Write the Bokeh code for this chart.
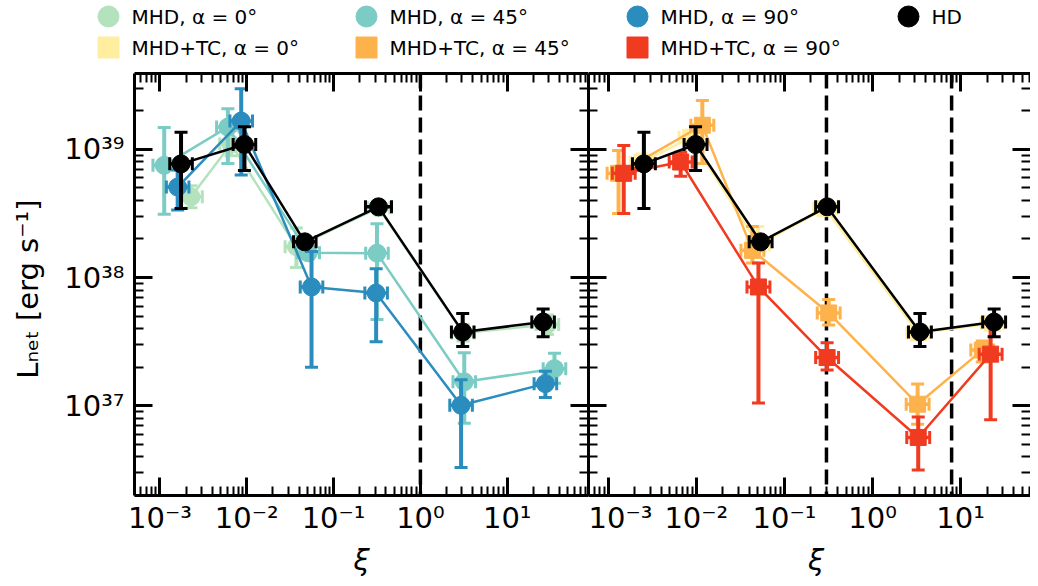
import numpy as np
from bokeh.plotting import figure
from bokeh.models import Range1d, LogAxis, FixedTicker, CustomJSTickFormatter, Span, ColumnDataSource
from bokeh.layouts import column, row
from bokeh.embed import file_html
from bokeh.resources import INLINE
from bokeh.core.properties import value

FONT = "DejaVu Sans"

# ---------------- data ----------------
# Left panel: MHD runs
hd_l_x   = [1.75e-3, 9.4e-3, 0.0466, 0.329, 3.07, 25.9]
hd_l_y   = [7.7e38, 1.09e39, 1.9e38, 3.56e38, 3.77e37, 4.5e37]
hd_l_ylo = [3.45e38, 6.85e38, 1.75e38, 3.35e38, 2.9e37, 3.45e37]
hd_l_yhi = [1.36e39, 1.5e39, 2.05e38, 3.8e38, 5.25e37, 5.7e37]
hd_l_xdex = [0.13, 0.13, 0.13, 0.15, 0.13, 0.13]

m0_x   = [2.28e-3, 6.6e-3, 0.0373, 0.33, 3.1, 29.0]
m0_y   = [4.26e38, 1.1e39, 1.74e38, 3.5e38, 3.7e37, 4.3e37]
m0_ylo = [3.5e38, 8.9e38, 1.2e38, 3.3e38, 3.2e37, 3.6e37]
m0_yhi = [5.2e38, 1.4e39, 2.43e38, 3.7e38, 4.3e37, 5.1e37]
m0_xdex = [0.13, 0.13, 0.13, 0.13, 0.13, 0.13]

m45_x   = [1.12e-3, 6.06e-3, 0.051, 0.316, 3.2, 35.0]
m45_y   = [7.5e38, 1.49e39, 1.56e38, 1.55e38, 1.54e37, 1.95e37]
m45_ylo = [3.12e38, 7.74e38, 1.4e38, 4.71e37, 7.3e36, 1.5e37]
m45_yhi = [1.48e39, 2.07e39, 1.75e38, 2.63e38, 2.59e37, 2.57e37]
m45_xdex = [0.13, 0.13, 0.13, 0.13, 0.13, 0.13]

m90_x   = [1.6e-3, 8.63e-3, 0.0557, 0.309, 2.94, 27.5]
m90_y   = [5.08e38, 1.66e39, 8.45e37, 7.58e37, 1.01e37, 1.49e37]
m90_ylo = [3.36e38, 6.3e38, 2.0e37, 3.16e37, 3.3e36, 1.16e37]
m90_yhi = [6.9e38, 2.97e39, 1.6e38, 1.17e38, 1.6e37, 1.86e37]
m90_xdex = [0.13, 0.13, 0.13, 0.13, 0.13, 0.13]

# Right panel: MHD+TC runs
hd_r_x   = [2.54e-3, 9.8e-3, 0.0537, 0.305, 3.45, 24.0]
hd_r_y   = [7.7e38, 1.09e39, 1.9e38, 3.56e38, 3.77e37, 4.5e37]
hd_r_ylo = [3.45e38, 6.85e38, 1.75e38, 3.35e38, 2.9e37, 3.45e37]
hd_r_yhi = [1.36e39, 1.5e39, 2.05e38, 3.8e38, 5.25e37, 5.7e37]
hd_r_xdex = [0.13, 0.13, 0.13, 0.13, 0.13, 0.13]

t0_x   = [2.4e-3, 8.6e-3, 0.05, 0.29, 3.3, 23.0]
t0_y   = [7.9e38, 1.24e39, 1.8e38, 3.45e38, 3.7e37, 4.4e37]
t0_ylo = [6.8e38, 1.1e39, 1.6e38, 3.2e38, 3.3e37, 4.0e37]
t0_yhi = [9.2e38, 1.4e39, 2.5e38, 3.7e38, 4.2e37, 4.9e37]
t0_xdex = [0.13, 0.13, 0.13, 0.13, 0.13, 0.13]

t45_x   = [1.31e-3, 0.0117, 0.0433, 0.318, 3.25, 17.6]
t45_y   = [6.5e38, 1.54e39, 1.63e38, 5.3e37, 1.03e37, 2.72e37]
t45_ylo = [3.16e38, 7.74e38, 1.3e38, 4.27e37, 7.2e36, 2.2e37]
t45_yhi = [9.8e38, 2.4e39, 2.5e38, 6.76e37, 1.48e37, 3.2e37]
t45_xdex = [0.13, 0.13, 0.13, 0.13, 0.13, 0.13]

t90_x   = [1.5e-3, 6.64e-3, 0.0507, 0.305, 3.3, 21.9]
t90_y   = [6.5e38, 7.96e38, 8.45e37, 2.38e37, 5.67e36, 2.53e37]
t90_ylo = [3.16e38, 6.17e38, 1.05e37, 1.9e37, 3.16e36, 7.8e36]
t90_yhi = [1.07e39, 9.5e38, 1.3e38, 3.1e37, 8.2e36, 4.37e37]
t90_xdex = [0.13, 0.13, 0.13, 0.13, 0.13, 0.13]

vlines_left = [1.0]
vlines_right = [0.3, 7.9]

x_ticks = [1e-3, 1e-2, 1e-1, 1e0, 1e1]
y_ticks = [1e37, 1e38, 1e39]

legend_labels = ["MHD, α = 0°", "MHD, α = 45°", "MHD, α = 90°", "HD",
                 "MHD+TC, α = 0°", "MHD+TC, α = 45°", "MHD+TC, α = 90°"]
x_label = "ξ"
y_label = "L\u2099\u2091\u209c  [erg s\u207b\u00b9]"

C_M0, C_M45, C_M90, C_HD = "#b4e2bd", "#7bccc4", "#2b8cbe", "#000000"
C_T0, C_T45, C_T90 = "#ffeda0", "#feb24c", "#f03b20"

# ---------------- layout constants ----------------
TOTAL_W, LEG_H, PANEL_H, XL_H = 1030, 71, 466, 41
FRAME_L, FRAME_MID = 134, 588
Y_RANGE = (10 ** 36.301, 10 ** 39.591)
X_RANGE_L = (10 ** -3.293, 10 ** 1.936)
X_RANGE_R = (10 ** -3.224, 10 ** 1.793)

x_minor = [m * 10.0 ** d for d in range(-4, 2) for m in range(2, 10)]
y_minor = [m * 10.0 ** d for d in range(36, 40) for m in range(2, 10)]

SUP_JS = """
const m = {'-':'\u207b','0':'\u2070','1':'\u00b9','2':'\u00b2','3':'\u00b3','4':'\u2074','5':'\u2075','6':'\u2076','7':'\u2077','8':'\u2078','9':'\u2079'};
const e = Math.round(Math.log10(tick));
return '10' + String(e).split('').map(c => m[c]).join('');
"""


def style_axis(ax, ticks, minor, labels, axis_line=True):
    ax.ticker = FixedTicker(ticks=ticks, minor_ticks=minor)
    ax.major_tick_in = 18
    ax.major_tick_out = 0
    ax.minor_tick_in = 9
    ax.minor_tick_out = 0
    ax.major_tick_line_width = 3
    ax.minor_tick_line_width = 2
    ax.major_tick_line_color = "black"
    ax.minor_tick_line_color = "black"
    ax.axis_line_width = 3
    ax.axis_line_color = "black" if axis_line else None
    if labels:
        ax.formatter = CustomJSTickFormatter(code=SUP_JS)
        ax.major_label_text_font = FONT
        ax.major_label_text_font_size = "29px"
        ax.major_label_text_color = "black"
    else:
        ax.formatter = CustomJSTickFormatter(code="return '';")
        ax.major_label_text_font_size = "0px"
        ax.major_label_standoff = 0


def draw_series(p, x, y, ylo, yhi, xdex, color, marker, msize):
    x = np.array(x, dtype=float)
    xd = np.array(xdex, dtype=float)
    src = ColumnDataSource(dict(x=x, y=y, ylo=ylo, yhi=yhi,
                                xlo=x * 10 ** (-xd), xhi=x * 10 ** xd))
    p.segment(x0="x", y0="ylo", x1="x", y1="yhi", source=src, line_color=color, line_width=4)
    p.segment(x0="xlo", y0="y", x1="xhi", y1="y", source=src, line_color=color, line_width=3.5)
    for cx, cy, ang in (("x", "ylo", 0), ("x", "yhi", 0), ("xlo", "y", np.pi / 2), ("xhi", "y", np.pi / 2)):
        p.scatter(cx, cy, source=src, marker="dash", size=13, angle=ang, line_color=color, line_width=3)
    p.line("x", "y", source=src, line_color=color, line_width=2.5)
    p.scatter("x", "y", source=src, marker=marker, size=msize, fill_color=color, line_color=color)


def make_panel(xr, width, left_border, ylabel):
    p = figure(width=width, height=PANEL_H, x_axis_type="log", y_axis_type="log",
               x_range=Range1d(*xr), y_range=Range1d(*Y_RANGE),
               toolbar_location=None, output_backend="svg",
               min_border_left=left_border, min_border_right=0,
               min_border_top=2, min_border_bottom=PANEL_H - 2 - 423)
    p.outline_line_color = None
    p.xgrid.visible = False
    p.ygrid.visible = False
    p.background_fill_color = "white"
    p.border_fill_color = "white"

    style_axis(p.xaxis[0], x_ticks, x_minor, True)
    p.xaxis[0].major_label_standoff = 5

    style_axis(p.yaxis[0], y_ticks, y_minor, ylabel)
    if ylabel:
        p.yaxis[0].axis_label = y_label
        p.yaxis[0].axis_label_text_font = FONT
        p.yaxis[0].axis_label_text_font_style = "normal"
        p.yaxis[0].axis_label_text_font_size = "29px"
        p.yaxis[0].axis_label_text_color = "black"
        p.yaxis[0].axis_label_standoff = 16
        p.yaxis[0].major_label_standoff = 10

    top = LogAxis()
    style_axis(top, x_ticks, x_minor, False)
    p.add_layout(top, "above")
    right = LogAxis()
    style_axis(right, y_ticks, y_minor, False, axis_line=ylabel)
    p.add_layout(right, "right")
    return p


def strip(height):
    s = figure(width=TOTAL_W, height=height, x_range=Range1d(0, TOTAL_W), y_range=Range1d(height, 0),
               toolbar_location=None, output_backend="svg", x_axis_type=None, y_axis_type=None,
               min_border=0)
    s.outline_line_color = None
    s.xgrid.visible = False
    s.ygrid.visible = False
    return s


# ---------------- left panel ----------------
pl = make_panel(X_RANGE_L, FRAME_MID, FRAME_L, True)
for v in vlines_left:
    pl.add_layout(Span(location=v, dimension="height", line_color="black",
                       line_width=3.5, line_dash="15 7", level="underlay"))
draw_series(pl, m0_x, m0_y, m0_ylo, m0_yhi, m0_xdex, C_M0, "circle", 18)
draw_series(pl, m45_x, m45_y, m45_ylo, m45_yhi, m45_xdex, C_M45, "circle", 18)
draw_series(pl, m90_x, m90_y, m90_ylo, m90_yhi, m90_xdex, C_M90, "circle", 18)
draw_series(pl, hd_l_x, hd_l_y, hd_l_ylo, hd_l_yhi, hd_l_xdex, C_HD, "circle", 18)

# ---------------- right panel ----------------
pr = make_panel(X_RANGE_R, TOTAL_W - FRAME_MID, 0, False)
for v in vlines_right:
    pr.add_layout(Span(location=v, dimension="height", line_color="black",
                       line_width=3.5, line_dash="15 7", level="underlay"))
draw_series(pr, t0_x, t0_y, t0_ylo, t0_yhi, t0_xdex, C_T0, "square", 16)
draw_series(pr, t45_x, t45_y, t45_ylo, t45_yhi, t45_xdex, C_T45, "square", 16)
draw_series(pr, t90_x, t90_y, t90_ylo, t90_yhi, t90_xdex, C_T90, "square", 16)
draw_series(pr, hd_r_x, hd_r_y, hd_r_ylo, hd_r_yhi, hd_r_xdex, C_HD, "circle", 18)

# ---------------- legend strip ----------------
lg = strip(LEG_H)
leg_colors = [C_M0, C_M45, C_M90, C_HD, C_T0, C_T45, C_T90]
leg_markers = ["circle"] * 4 + ["square"] * 3
col_x = [108, 366, 637, 908]
row_y = [16, 47]
mx, my, tx = [], [], []
for i in range(7):
    r, c = divmod(i, 4)
    mx.append(col_x[c]); my.append(row_y[r]); tx.append(col_x[c] + 23)
lsrc = ColumnDataSource(dict(mx=mx, my=my, tx=tx, color=leg_colors,
                             marker=leg_markers, label=legend_labels))
lg.scatter("mx", "my", source=lsrc, marker="marker", size=21, fill_color="color", line_color="color")
lg.text("tx", "my", text="label", source=lsrc, text_font=value(FONT),
        text_font_size=value("20px"), text_baseline="middle", text_align="left", text_color="black")

# ---------------- x-axis title strip (one ξ under each panel) ----------------
xs = strip(XL_H)
xs.text(x=[(FRAME_L + FRAME_MID) / 2, (FRAME_MID + 1043) / 2], y=[22, 22], text=[x_label, x_label],
        text_font=value(FONT), text_font_style="italic", text_font_size=value("29px"),
        text_baseline="middle", text_align="center", text_color="black")

layout = column(lg, row(pl, pr, spacing=0), xs, spacing=0)
open("out.html", "w").write(file_html(layout, INLINE))
